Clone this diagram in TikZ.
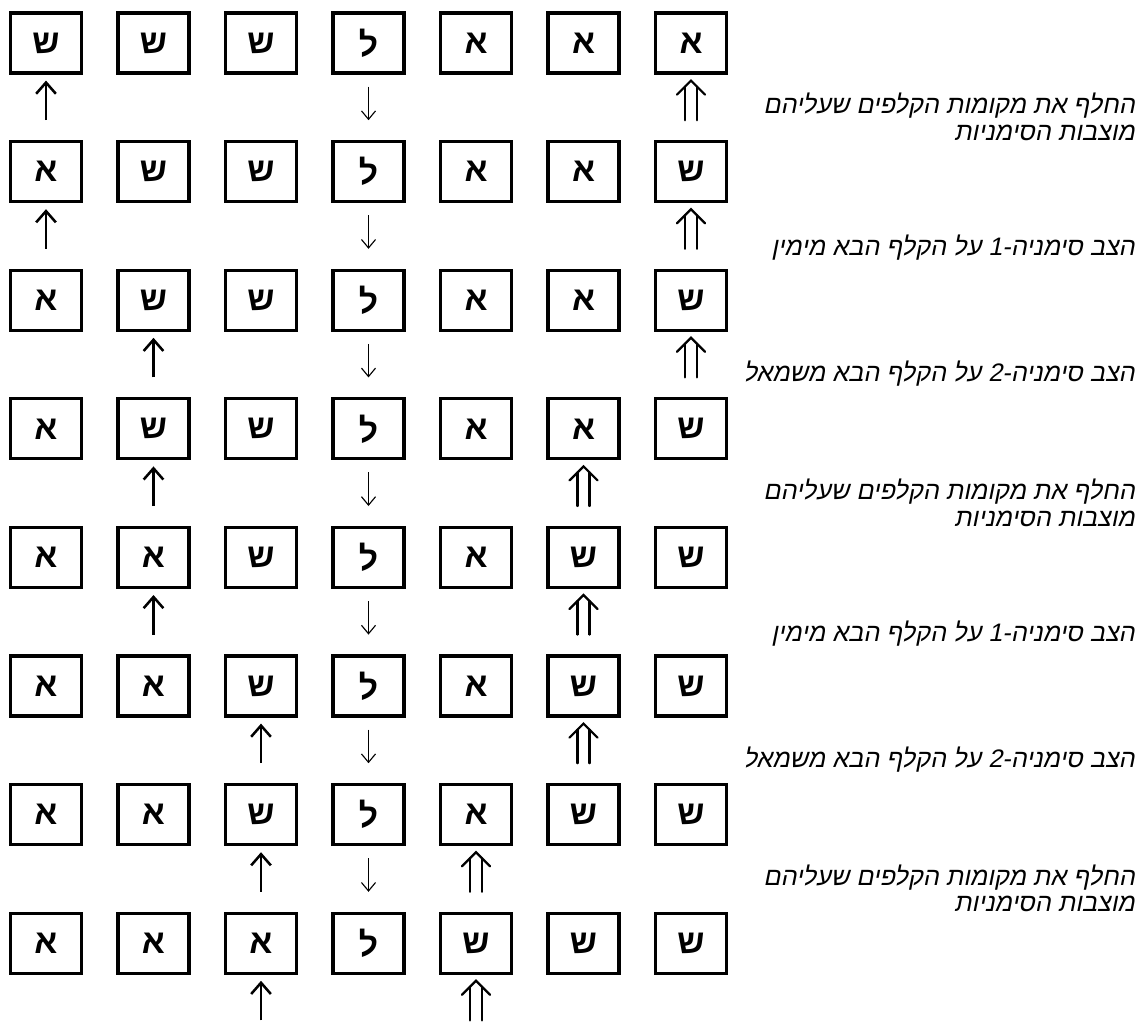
\documentclass[tikz,border=0pt]{standalone}
\usepackage{fontspec}
\usetikzlibrary{arrows.meta}
\TeXXeTstate=1
\newfontfamily\cardfont[Script=Hebrew]{Liberation Sans}
\newfontfamily\notefont[Script=Hebrew,FakeSlant=0.2]{Liberation Sans}

\tikzset{
  card/.style={draw,line width=2.3pt,minimum width=1.775cm,minimum height=1.5cm,inner sep=0pt,
    font=\cardfont\bfseries\fontsize{24}{26}\selectfont},
  markone/.style={line width=1.8pt,-{Straight Barb[length=8pt,width=14pt]},shorten >=0.15cm},
  markdown/.style={line width=0.8pt,-{Straight Barb[length=6pt,width=10pt]},shorten <=0.3cm},
  marktwo/.style={line width=1.6pt,line cap=round},
  note/.style={anchor=east,align=right,inner sep=0pt,font=\notefont\fontsize{18}{19}\selectfont},
}

\begin{document}
\begin{tikzpicture}[x=1cm,y=1cm]
\path[use as bounding box] (0,0) rectangle (28.5,25.75);
% cards, row by row
\foreach \r/\letters in {1/{ש,ש,ש,ל,א,א,א},2/{א,ש,ש,ל,א,א,ש},3/{א,ש,ש,ל,א,א,ש},4/{א,ש,ש,ל,א,א,ש},
                         5/{א,א,ש,ל,א,ש,ש},6/{א,א,ש,ל,א,ש,ש},7/{א,א,ש,ל,א,ש,ש},8/{א,א,א,ל,ש,ש,ש}}{
  \foreach \l [count=\c] in \letters {
    \node[card] (b-\r-\c) at ({1.15+2.6875*(\c-1)},{24.675-3.215*(\r-1)}) {\l};
    \path (b-\r-\c.south) ++(0,-1.14) coordinate (t-\r-\c) ++(0,0.99) coordinate (h-\r-\c);
  }
}
% bookmark 1
\foreach \r/\c in {1/1,2/1,3/2,4/2,5/2,6/3,7/3,8/3}
  \draw[markone] (t-\r-\c) -- (b-\r-\c);
% middle card
\foreach \r in {1,...,7}
  \draw[markdown] (b-\r-4) -- (t-\r-4);
% bookmark 2
\foreach \r/\c in {1/7,2/7,3/7,4/6,5/6,6/6,7/5,8/5}{
  \draw[marktwo] ([xshift=-0.15cm]t-\r-\c) -- ([xshift=-0.15cm,yshift=-0.15cm]h-\r-\c);
  \draw[marktwo] ([xshift=0.15cm]t-\r-\c) -- ([xshift=0.15cm,yshift=-0.15cm]h-\r-\c);
  \draw[marktwo] ([shift={(-0.35,-0.35)}]h-\r-\c) -- (h-\r-\c) -- ([shift={(0.35,-0.35)}]h-\r-\c);
}
% steps
\node[note] (swap-1) at (28.375,22.825) {\beginR החלף את מקומות הקלפים שעליהם\endR\\\beginR מוצבות הסימניות\endR};
\node[note] (right-1) at (28.375,19.55) {\beginR הצב סימניה-\beginL1\endL{} על הקלף הבא מימין\endR};
\node[note] (left-1) at (28.375,16.4) {\beginR הצב סימניה-\beginL2\endL{} על הקלף הבא משמאל\endR};
\node[note] (swap-2) at (28.375,13.18) {\beginR החלף את מקומות הקלפים שעליהם\endR\\\beginR מוצבות הסימניות\endR};
\node[note] (right-2) at (28.375,9.9) {\beginR הצב סימניה-\beginL1\endL{} על הקלף הבא מימין\endR};
\node[note] (left-2) at (28.375,6.75) {\beginR הצב סימניה-\beginL2\endL{} על הקלף הבא משמאל\endR};
\node[note] (swap-3) at (28.375,3.54) {\beginR החלף את מקומות הקלפים שעליהם\endR\\\beginR מוצבות הסימניות\endR};
\end{tikzpicture}
\end{document}
